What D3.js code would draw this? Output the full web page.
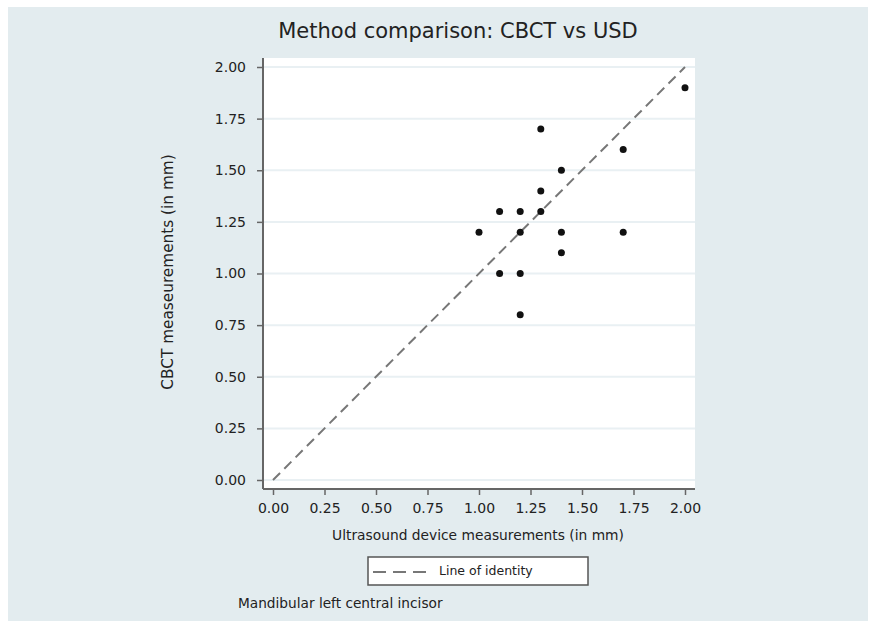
<!DOCTYPE html>
<html>
<head>
<meta charset="utf-8">
<script src="https://cdn.jsdelivr.net/npm/d3@7"></script>
<style>
  html, body { margin: 0; padding: 0; background: #ffffff; }
  svg { display: block; }
  text { font-family: "DejaVu Sans", Verdana, sans-serif; fill: #222; }
</style>
</head>
<body>
<svg id="chart" width="871" height="625"></svg>
<script>
// ---- Data ----
const usdValues  = [1.0, 1.1, 1.1, 1.2, 1.2, 1.2, 1.2, 1.3, 1.3, 1.3, 1.4, 1.4, 1.4, 1.7, 1.7, 2.0];
const cbctValues = [1.2, 1.3, 1.0, 1.3, 1.2, 1.0, 0.8, 1.7, 1.4, 1.3, 1.5, 1.2, 1.1, 1.6, 1.2, 1.9];
const tickValues = [0, 0.25, 0.5, 0.75, 1.0, 1.25, 1.5, 1.75, 2.0];
const identityLine = [0, 2];
const titleText = "Method comparison: CBCT vs USD";
const xLabel = "Ultrasound device measurements (in mm)";
const yLabel = "CBCT measeurements (in mm)";
const legendLabel = "Line of identity";
const noteText = "Mandibular left central incisor";

const svg = d3.select("#chart");

// outer panel
svg.append("rect").attr("x", 8).attr("y", 7).attr("width", 860).attr("height", 614)
  .attr("fill", "#e3ecef");

// plot region
const plot = { left: 263, right: 695, top: 58, bottom: 489 };
svg.append("rect").attr("x", plot.left).attr("y", plot.top)
  .attr("width", plot.right - plot.left).attr("height", plot.bottom - plot.top)
  .attr("fill", "#ffffff");

const x = d3.scaleLinear().domain([0, 2]).range([273, 685]);
const y = d3.scaleLinear().domain([0, 2]).range([480, 67]);

// gridlines
svg.append("g").selectAll("line").data(tickValues).join("line")
  .attr("x1", plot.left + 1).attr("x2", plot.right)
  .attr("y1", d => y(d)).attr("y2", d => y(d))
  .attr("stroke", "#e9f0f3").attr("stroke-width", 2);

// identity line
svg.append("line")
  .attr("x1", x(identityLine[0])).attr("y1", y(identityLine[0]))
  .attr("x2", x(identityLine[1])).attr("y2", y(identityLine[1]))
  .attr("stroke", "#777").attr("stroke-width", 2).attr("stroke-dasharray", "10,6");

// points
svg.append("g").selectAll("circle").data(usdValues.map((u, i) => [u, cbctValues[i]])).join("circle")
  .attr("cx", d => x(d[0])).attr("cy", d => y(d[1])).attr("r", 3.5).attr("fill", "#111");

// axes
const fmt = d3.format(".2f");
const yAxis = svg.append("g").attr("transform", `translate(${plot.left},0)`)
  .call(d3.axisLeft(y).tickValues(tickValues).tickFormat(fmt).tickSizeOuter(0).tickSize(6).tickPadding(11));
const xAxis = svg.append("g").attr("transform", `translate(0,${plot.bottom})`)
  .call(d3.axisBottom(x).tickValues(tickValues).tickFormat(fmt).tickSizeOuter(0).tickSize(6).tickPadding(8));
[yAxis, xAxis].forEach(g => {
  g.select(".domain").remove();
  g.selectAll(".tick line").attr("stroke", "#666").attr("stroke-width", 1.5);
  g.selectAll(".tick text").attr("font-family", "DejaVu Sans").attr("font-size", 14).attr("fill", "#333");
});
svg.append("line").attr("x1", plot.left).attr("x2", plot.left).attr("y1", plot.top).attr("y2", plot.bottom)
  .attr("stroke", "#666").attr("stroke-width", 2);
svg.append("line").attr("x1", plot.left).attr("x2", plot.right).attr("y1", plot.bottom).attr("y2", plot.bottom)
  .attr("stroke", "#666").attr("stroke-width", 2);

// title
svg.append("text").attr("x", 458).attr("y", 38).attr("text-anchor", "middle")
  .attr("font-size", 21).text(titleText);

// axis titles
svg.append("text").attr("x", 478).attr("y", 540).attr("text-anchor", "middle")
  .attr("font-size", 13.8).attr("fill", "#222").text(xLabel);
svg.append("text").attr("transform", "translate(173,272) rotate(-90)").attr("text-anchor", "middle")
  .attr("font-size", 15.3).text(yLabel);

// legend
svg.append("rect").attr("x", 368).attr("y", 557).attr("width", 220).attr("height", 28)
  .attr("fill", "#fff").attr("stroke", "#555").attr("stroke-width", 1.5);
svg.append("line").attr("x1", 373).attr("x2", 429).attr("y1", 572).attr("y2", 572)
  .attr("stroke", "#777").attr("stroke-width", 2).attr("stroke-dasharray", "13,7");
svg.append("text").attr("x", 439).attr("y", 575).attr("font-size", 12.5).text(legendLabel);

// note
svg.append("text").attr("x", 238).attr("y", 608).attr("font-size", 13.7).text(noteText);
</script>
</body>
</html>
